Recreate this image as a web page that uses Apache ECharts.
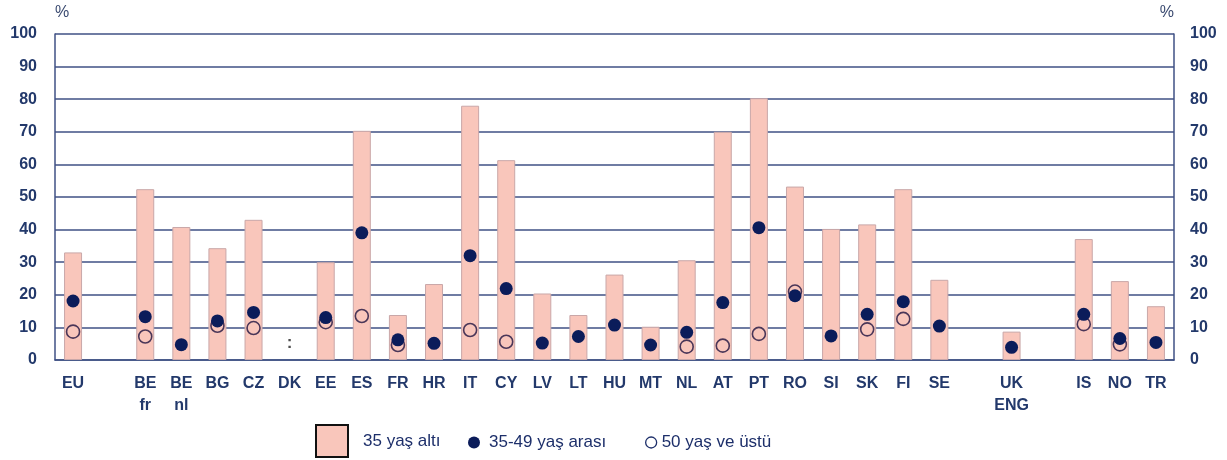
<!DOCTYPE html>
<html>
<head>
<meta charset="utf-8">
<script src="https://cdn.jsdelivr.net/npm/echarts@6/dist/echarts.min.js"></script>
<style>
  html, body { margin: 0; padding: 0; background: #ffffff; }
  #chart { width: 1227px; height: 460px; }
</style>
</head>
<body>
<div id="chart"></div>
<script>
// Country slots (blank names keep the gaps between groups)
const categories = ['EU', '', 'BE\nfr', 'BE\nnl', 'BG', 'CZ', 'DK', 'EE', 'ES', 'FR', 'HR', 'IT', 'CY', 'LV', 'LT',
  'HU', 'MT', 'NL', 'AT', 'PT', 'RO', 'SI', 'SK', 'FI', 'SE', ' ', 'UK\nENG', '  ', 'IS', 'NO', 'TR'];

// Share by age group, %
const under35 = [33.0, null, 52.4, 40.8, 34.3, 43.0, null, 30.0, 70.3, 13.8, 23.3, 78.0, 61.3, 20.4, 13.8,
  26.2, 10.2, 30.6, 70.0, 80.3, 53.2, 40.2, 41.6, 52.4, 24.6, null, 8.7, null, 37.1, 24.2, 16.5];
const age35to49 = [18.1, null, 13.3, 4.7, 12.0, 14.6, null, 13.0, 39.0, 6.2, 5.1, 32.0, 21.9, 5.2, 7.2,
  10.7, 4.6, 8.5, 17.6, 40.6, 19.7, 7.4, 14.0, 17.9, 10.4, null, 3.9, null, 14.0, 6.6, 5.4];
const age50plus = [8.7, null, 7.2, null, 10.5, 9.8, null, 11.6, 13.5, 4.6, null, 9.2, 5.6, null, null,
  null, null, 4.1, 4.4, 8.0, 21.0, null, 9.4, 12.6, null, null, null, null, 11.0, 4.8, null];

// "Not available" marker
const notAvailable = [null, null, null, null, null, null, 5, null, null, null, null, null, null, null, null,
  null, null, null, null, null, null, null, null, null, null, null, null, null, null, null, null];

const yTicks = { min: 0, max: 100, interval: 10 };
const seriesNames = ['35 yaş altı', '35-49 yaş arası', '50 yaş ve üstü'];

const navy = '#23396b';
const gridColor = '#3f5084';
const tickFont = { fontFamily: 'Liberation Sans, Arial, sans-serif', fontWeight: 'bold', fontSize: 16, color: navy };
const legendText = { fontFamily: 'Liberation Sans, Arial, sans-serif', fontSize: 17, color: '#1d2f6a' };

const blankToDash = arr => arr.map(v => (v === null ? '-' : v));

const chart = echarts.init(document.getElementById('chart'), null, { renderer: 'canvas' });

chart.setOption({
  animation: false,
  backgroundColor: '#ffffff',
  grid: { left: 55, right: 53, top: 34, bottom: 100, containLabel: false },
  xAxis: {
    type: 'category',
    data: categories,
    boundaryGap: true,
    axisLine: { show: true, lineStyle: { color: gridColor, width: 1.5 } },
    axisTick: { show: false },
    axisLabel: { interval: 0, margin: 13, lineHeight: 22, ...tickFont }
  },
  yAxis: [
    {
      type: 'value', position: 'left', ...yTicks,
      name: '%', nameLocation: 'end', nameGap: 13,
      nameTextStyle: { align: 'left', fontFamily: 'Liberation Sans, Arial, sans-serif', fontSize: 16, color: '#3a4a70' },
      axisLine: { show: true, lineStyle: { color: gridColor, width: 1.5 } },
      axisTick: { show: false },
      axisLabel: { margin: 18, ...tickFont },
      splitLine: { show: true, lineStyle: { color: gridColor, width: 1.5 } }
    },
    {
      type: 'value', position: 'right', ...yTicks,
      name: '%', nameLocation: 'end', nameGap: 13,
      nameTextStyle: { align: 'right', fontFamily: 'Liberation Sans, Arial, sans-serif', fontSize: 16, color: '#3a4a70' },
      axisLine: { show: true, lineStyle: { color: gridColor, width: 1.5 } },
      axisTick: { show: false },
      axisLabel: { margin: 16, align: 'left', ...tickFont },
      splitLine: { show: false }
    }
  ],
  legend: [
    {
      data: [{ name: seriesNames[0], icon: 'rect' }], left: 310, top: 419, itemWidth: 32, itemHeight: 32,
      itemStyle: { borderColor: '#111111', borderWidth: 2 },
      textStyle: { ...legendText, padding: [0, 0, 0, 10] }, selectedMode: false
    },
    {
      data: [seriesNames[1]], left: 463, top: 429, itemWidth: 12, itemHeight: 14,
      textStyle: { ...legendText, padding: [0, 0, 0, 4] }, selectedMode: false
    },
    {
      data: [seriesNames[2]], left: 640, top: 429, itemWidth: 11, itemHeight: 14,
      itemStyle: { color: 'rgba(255,255,255,0)', borderColor: '#1d2f6a', borderWidth: 1.3 },
      textStyle: { ...legendText, padding: [0, 0, 0, 0] }, selectedMode: false
    }
  ],
  series: [
    {
      name: seriesNames[0], type: 'bar', data: blankToDash(under35), barWidth: 18,
      itemStyle: { color: '#f9c6bb', borderColor: '#c9a7a8', borderWidth: 1 },
      z: 2
    },
    {
      name: seriesNames[2], type: 'scatter', data: blankToDash(age50plus),
      symbol: 'circle', symbolSize: 13,
      itemStyle: { color: 'rgba(255,255,255,0)', borderColor: '#4a3658', borderWidth: 1.6, opacity: 1 },
      z: 3
    },
    {
      name: seriesNames[1], type: 'scatter', data: blankToDash(age35to49),
      symbol: 'circle', symbolSize: 13,
      itemStyle: { color: '#0b1c5a', opacity: 1 },
      z: 4
    },
    {
      name: 'n/a', type: 'scatter', data: blankToDash(notAvailable),
      symbolSize: 1, itemStyle: { color: 'rgba(0,0,0,0)' },
      label: {
        show: true, position: 'inside', formatter: ':',
        fontFamily: 'Liberation Sans, Arial, sans-serif', fontWeight: 'bold', fontSize: 17, color: '#222222'
      },
      z: 5
    }
  ]
});
</script>
</body>
</html>
